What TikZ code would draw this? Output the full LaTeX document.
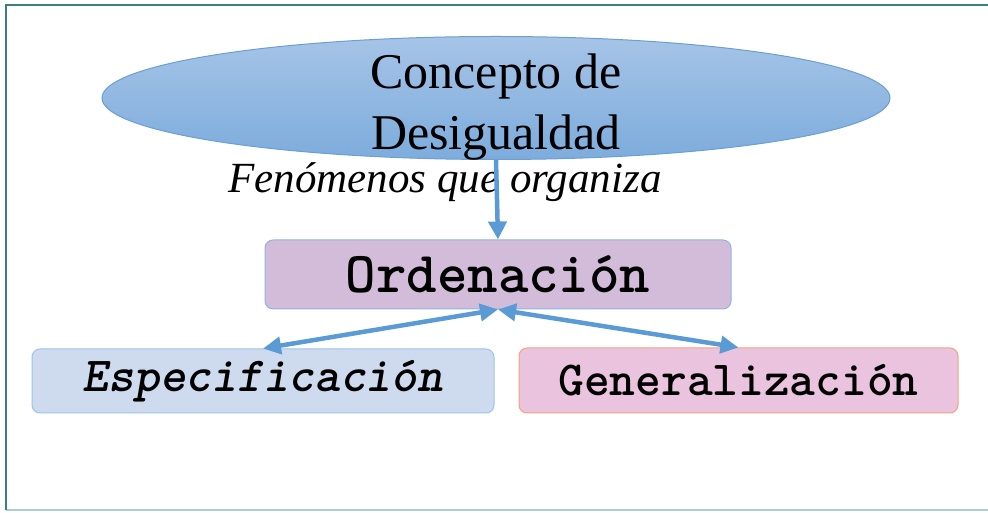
\documentclass[tikz,border=0pt]{standalone}
\usepackage{fontspec}
\setmainfont{Liberation Serif}
\usepackage{tikz}
\usetikzlibrary{shapes,arrows.meta,positioning}

\definecolor{frameDark}{HTML}{3A8279}
\definecolor{frameLight}{HTML}{A9D0CF}
\definecolor{arrowBlue}{HTML}{5B9BD5}
\definecolor{ellTop}{HTML}{A6C4E7}
\definecolor{ellBot}{HTML}{7DACDC}
\definecolor{ellLine}{HTML}{6A9FD4}
\definecolor{ordFill}{HTML}{D3BCD9}
\definecolor{ordLine}{HTML}{8EB4E3}
\definecolor{espFill}{HTML}{CEDBEF}
\definecolor{espLine}{HTML}{9DC3E6}
\definecolor{genFill}{HTML}{EAC3DE}
\definecolor{genLine}{HTML}{F4A27A}

\begin{document}
\begin{tikzpicture}[x=1pt,y=1pt]
			\tikzstyle{Cloud}	= [ellipse, draw=ellLine, line width=1pt, top color=ellTop, bottom color=ellBot, minimum width=788pt, minimum height=123pt, inner sep=0pt]
			\tikzstyle{Box}		= [rectangle, rounded corners=8pt, line width=1pt, inner sep=0pt]
			\tikzstyle{ORD}		= [Box, draw=ordLine, fill=ordFill, minimum width=466pt, minimum height=69pt]
			\tikzstyle{ESP}		= [Box, draw=espLine, fill=espFill, minimum width=462pt, minimum height=64pt]
			\tikzstyle{GEN}		= [Box, draw=genLine, fill=genFill, minimum width=439pt, minimum height=65pt]
			\tikzstyle{Link}	= [arrowBlue, line width=4.5pt]

			\useasboundingbox (0,0) rectangle (988,513);

			% frame
			\draw [frameLight, line width=2pt] (6,3) -- (988,3);
			\draw [frameDark, line width=2pt] (6,3) -- (6,508) -- (988,508);

			\node (concepto) at (496,415) [Cloud] {};
			\node (conceptoTxt) at (496,406) [align=center, font=\fontsize{50}{61}\selectfont] {Concepto de\\Desigualdad};
			\node (fenomenos) at (445,320) [anchor=base, inner sep=0pt, font=\fontsize{43}{48}\selectfont\itshape] {Fenómenos que organiza};

			\node (ord) at (498,238.5) [ORD, font=\fontsize{58}{62}\selectfont\ttfamily\bfseries] {Ordenación};
			\node (esp) at (263,132) [ESP, font=\fontsize{49}{54}\selectfont\ttfamily\bfseries\itshape] {Especificación};
			\node (gen) at (738.5,132.5) [GEN, font=\fontsize{49}{54}\selectfont\ttfamily\bfseries] {Generalización};

			\draw [-{Triangle[length=18pt, width=18pt]}] (concepto.south) to (ord.north) [Link];
			\draw [{Triangle[length=18pt, width=17pt]}-{Triangle[length=18pt, width=17pt]}] (ord.south) to (esp.north) [Link];
			\draw [{Triangle[length=18pt, width=17pt]}-{Triangle[length=18pt, width=17pt]}] (ord.south) to (gen.north) [Link];
		\end{tikzpicture}
\end{document}
